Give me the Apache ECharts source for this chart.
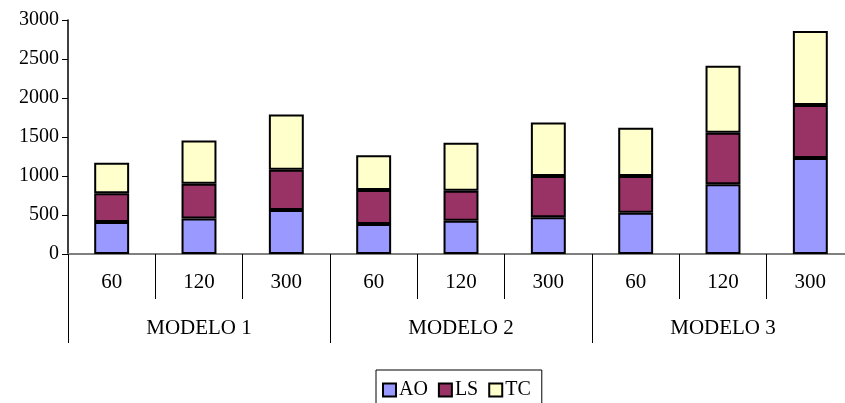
<!DOCTYPE html>
<html>
<head>
<meta charset="utf-8">
<script src="https://cdn.jsdelivr.net/npm/echarts@6/dist/echarts.min.js"></script>
<style>
  html, body { margin: 0; padding: 0; background: #fff; overflow: hidden; }
  #chart { width: 845px; height: 403px; }
</style>
</head>
<body>
<div id="chart"></div>
<script>
// Sub-categories (time values) and the model groups they belong to
const subCategories = ['60', '120', '300', '60', '120', '300', '60', '120', '300'];
const groups = ['MODELO 1', 'MODELO 2', 'MODELO 3'];

// Stacked components
const AO = [410, 455, 565, 385, 425, 470, 530, 895, 1230];
const LS = [370, 445, 515, 435, 385, 530, 470, 660, 680];
const TC = [390, 555, 710, 445, 615, 685, 620, 860, 950];

const yTicks = { min: 0, max: 3000, interval: 500 };

const font = 'Liberation Serif';
const chart = echarts.init(document.getElementById('chart'));

const barStyle = (color) => ({
  color: color,
  borderColor: '#000',
  borderWidth: 2
});

chart.setOption({
  animation: false,
  textStyle: { fontFamily: font },
  // plot runs slightly past the right edge of the canvas
  grid: { left: 68, width: 786, top: 20, bottom: 149, outerBoundsMode: 'none' },
  legend: {
    data: ['AO', 'LS', 'TC'],
    left: 376,
    top: 370,
    orient: 'horizontal',
    padding: [10, 11, 14, 6],
    borderColor: '#000',
    borderWidth: 1,
    itemWidth: 13,
    itemHeight: 13,
    itemGap: 10,
    icon: 'rect',
    itemStyle: { borderColor: '#000', borderWidth: 2 },
    textStyle: { fontFamily: font, fontSize: 20, color: '#000', padding: [0, 0, 0, -2] }
  },
  xAxis: [
    {
      type: 'category',
      data: subCategories,
      position: 'bottom',
      axisLine: { show: true, lineStyle: { color: '#808080', width: 2 } },
      axisTick: { show: true, length: 45, interval: 0, lineStyle: { color: '#000', width: 1 } },
      axisLabel: { interval: 0, margin: 18, fontFamily: font, fontSize: 21, color: '#000' },
      splitLine: { show: false }
    },
    {
      type: 'category',
      data: groups,
      position: 'bottom',
      axisLine: { show: false },
      axisTick: { show: true, length: 89, interval: 0, lineStyle: { color: '#000', width: 1 } },
      axisLabel: { interval: 0, margin: 64, fontFamily: font, fontSize: 21, color: '#000' },
      splitLine: { show: false }
    }
  ],
  yAxis: {
    type: 'value',
    min: yTicks.min,
    max: yTicks.max,
    interval: yTicks.interval,
    axisLine: { show: true, lineStyle: { color: '#000', width: 1.5 } },
    axisTick: { show: true, length: 6, lineStyle: { color: '#000' } },
    axisLabel: { margin: 9, fontFamily: font, fontSize: 20, color: '#000', formatter: (v) => String(v) },
    splitLine: { show: false }
  },
  series: [
    { name: 'AO', type: 'bar', stack: 'total', data: AO, barWidth: '40%', itemStyle: barStyle('#9999FF') },
    { name: 'LS', type: 'bar', stack: 'total', data: LS, barWidth: '40%', itemStyle: barStyle('#993366') },
    { name: 'TC', type: 'bar', stack: 'total', data: TC, barWidth: '40%', itemStyle: barStyle('#FFFFCC') }
  ]
});
</script>
</body>
</html>
